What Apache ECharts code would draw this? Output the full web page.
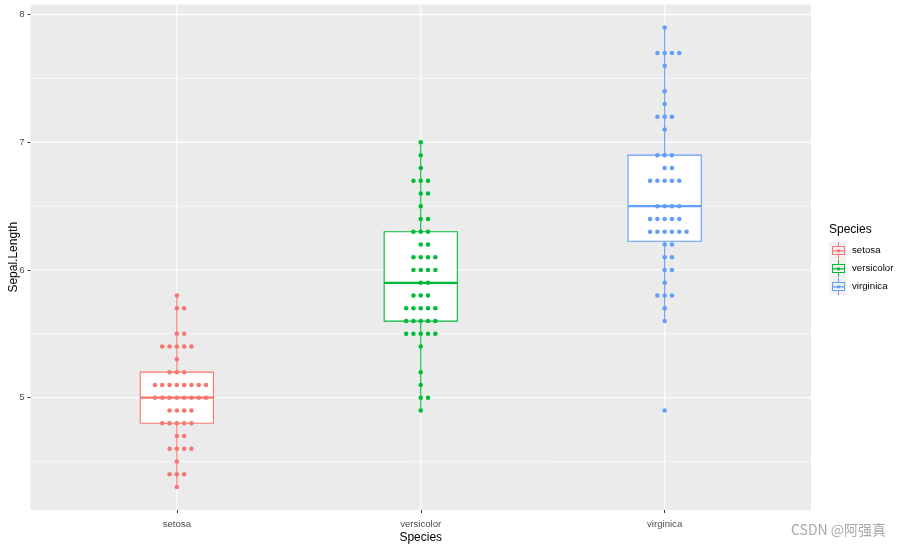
<!DOCTYPE html>
<html><head><meta charset="utf-8">
<script src="https://cdn.jsdelivr.net/npm/echarts@6/dist/echarts.min.js"></script>
<style>html,body{margin:0;padding:0;background:#fff}#c{width:906px;height:548px}</style>
</head><body><div id="c"></div>
<script>
// ---- data (iris Sepal.Length by Species) ----
const categories = ['setosa', 'versicolor', 'virginica'];
const setosa = [5.1,4.9,4.7,4.6,5.0,5.4,4.6,5.0,4.4,4.9,5.4,4.8,4.8,4.3,5.8,5.7,5.4,5.1,5.7,5.1,5.4,5.1,4.6,5.1,4.8,5.0,5.0,5.2,5.2,4.7,4.8,5.4,5.2,5.5,4.9,5.0,5.5,4.9,4.4,5.1,5.0,4.5,4.4,5.0,5.1,4.8,5.1,4.6,5.3,5.0];
const versicolor = [7.0,6.4,6.9,5.5,6.5,5.7,6.3,4.9,6.6,5.2,5.0,5.9,6.0,6.1,5.6,6.7,5.6,5.8,6.2,5.6,5.9,6.1,6.3,6.1,6.4,6.6,6.8,6.7,6.0,5.7,5.5,5.5,5.8,6.0,5.4,6.0,6.7,6.3,5.6,5.5,5.5,6.1,5.8,5.0,5.6,5.7,5.7,6.2,5.1,5.7];
const virginica = [6.3,5.8,7.1,6.3,6.5,7.6,4.9,7.3,6.7,7.2,6.5,6.4,6.8,5.7,5.8,6.4,6.5,7.7,7.7,6.0,6.9,5.6,7.7,6.3,6.7,7.2,6.2,6.1,6.4,7.2,7.4,7.9,6.4,6.3,6.1,7.7,6.3,6.4,6.0,6.9,6.7,6.9,5.8,6.8,6.7,6.7,6.3,6.5,6.2,5.9];
const colors = ['#F8766D', '#00BA38', '#619CFF'];
const yTicks = [5, 6, 7, 8];
const yMinor = [4.5, 5.5, 6.5, 7.5];
const xTicks = [1, 2, 3];
const yRange = [4.12, 8.08];
const xRange = [0.4, 3.6];

const groups = [setosa, versicolor, virginica];

function quantile(sorted, p) {
  const h = (sorted.length - 1) * p, lo = Math.floor(h), hi = Math.ceil(h);
  return sorted[lo] + (h - lo) * (sorted[hi] - sorted[lo]);
}
function boxStats(arr) {
  const s = arr.slice().sort((a, b) => a - b);
  const q1 = quantile(s, 0.25), med = quantile(s, 0.5), q3 = quantile(s, 0.75);
  const iqr = q3 - q1;
  const lo = s.find(v => v >= q1 - 1.5 * iqr - 1e-9);
  const hi = s.slice().reverse().find(v => v <= q3 + 1.5 * iqr + 1e-9);
  return [lo, q1, med, q3, hi];
}
const DOT_STEP = 7.3;
function dots(arr, xi) {
  const counts = {};
  arr.forEach(v => { const k = v.toFixed(1); counts[k] = (counts[k] || 0) + 1; });
  const out = [];
  Object.keys(counts).forEach(k => {
    const n = counts[k];
    const start = -Math.floor((n - 1) / 2);
    for (let i = 0; i < n; i++) {
      out.push({ value: [xi, parseFloat(k)], symbolOffset: [(start + i) * DOT_STEP, 0] });
    }
  });
  return out;
}

const iconPath = 'path://M0 4H13V5H0Z M0 12H13V13H0Z M0 4H1V13H0Z M12 4H13V13H12Z M0 8.3H13V9.5H0Z M6 0H7V4H6Z M6 13H7V17H6Z M5 7.6H8V10.2H5Z';

// grid line records: [orientation (0 = horizontal, 1 = vertical), value, width]
const gridLines = [
  ...yMinor.map(v => [0, v, 0.6]),
  ...yTicks.map(v => [0, v, 1.2]),
  ...xTicks.map(v => [1, v, 1.2])
];

const series = [];
series.push({
  type: 'custom', z: 1, silent: true,
  encode: { x: -1, y: -1 },
  data: gridLines,
  renderItem: function (params, api) {
    const cs = params.coordSys;
    const orient = api.value(0), v = api.value(1), w = api.value(2);
    if (orient === 0) {
      const y = api.coord([xRange[0], v])[1];
      return { type: 'line', shape: { x1: cs.x, y1: y, x2: cs.x + cs.width, y2: y }, style: { stroke: '#fff', lineWidth: w } };
    }
    const x = api.coord([v, yRange[0]])[0];
    return { type: 'line', shape: { x1: x, y1: cs.y, x2: x, y2: cs.y + cs.height }, style: { stroke: '#fff', lineWidth: w } };
  }
});
groups.forEach((g, i) => {
  series.push({
    name: categories[i], type: 'custom', z: 2, color: colors[i],
    encode: { x: 0, y: [1, 2, 3, 4, 5] },
    data: [[i + 1, ...boxStats(g)]],
    renderItem: function (params, api) {
      const x = api.value(0);
      const lo = api.coord([x, api.value(1)]);
      const q1 = api.coord([x, api.value(2)]);
      const md = api.coord([x, api.value(3)]);
      const q3 = api.coord([x, api.value(4)]);
      const hi = api.coord([x, api.value(5)]);
      const w = api.size([0.3, 0])[0];
      const c = api.visual('color');
      return {
        type: 'group', children: [
          { type: 'line', shape: { x1: lo[0], y1: lo[1], x2: hi[0], y2: hi[1] }, style: { stroke: c, lineWidth: 1.1 } },
          { type: 'rect', shape: { x: q3[0] - w / 2, y: q3[1], width: w, height: q1[1] - q3[1] }, style: { fill: '#fff', stroke: c, lineWidth: 1.1 } },
          { type: 'line', shape: { x1: md[0] - w / 2, y1: md[1], x2: md[0] + w / 2, y2: md[1] }, style: { stroke: c, lineWidth: 2.2 } }
        ]
      };
    }
  });
});
groups.forEach((g, i) => {
  series.push({
    name: categories[i], type: 'scatter', z: 3, color: colors[i],
    symbol: 'circle', symbolSize: 4.5,
    itemStyle: { color: colors[i], opacity: 1 },
    data: dots(g, i + 1)
  });
});

const chart = echarts.init(document.getElementById('c'), null, { renderer: 'canvas' });
chart.setOption({
  animation: false,
  backgroundColor: '#fff',
  textStyle: { fontFamily: 'Liberation Sans, Arial, sans-serif' },
  title: {
    text: 'Species', left: 829, top: 224, padding: 0,
    textStyle: { fontSize: 12, fontWeight: 'normal', color: '#000', fontFamily: 'Liberation Sans' }
  },
  legend: {
    orient: 'vertical', left: 832, top: 242, padding: 0,
    itemWidth: 13, itemHeight: 17, itemGap: 1,
    data: categories.map(c => ({ name: c, icon: iconPath })),
    textStyle: { fontSize: 9.7, color: '#000', fontFamily: 'Liberation Sans', padding: [0, 0, 0, 2] },
    selectedMode: false
  },
  graphic: [
    { type: 'rect', left: 829, top: 242, z: -1, shape: { width: 17, height: 53 }, style: { fill: '#F2F2F2' } },
    { type: 'text', left: 791, top: 523, style: { text: 'CSDN @阿强真', fill: '#a8a8a8', font: '14px "Noto Sans CJK SC", sans-serif' } }
  ],
  grid: {
    left: 30.5, right: 95, top: 4.5, bottom: 38, show: true,
    backgroundColor: '#EBEBEB', borderWidth: 0, containLabel: false, outerBoundsMode: 'none'
  },
  xAxis: {
    type: 'value', min: xRange[0], max: xRange[1],
    name: 'Species', nameLocation: 'middle', nameGap: 22, nameMoveOverlap: false,
    nameTextStyle: { fontSize: 12, color: '#000' },
    axisLine: { show: false },
    axisTick: { show: true, length: 3, lineStyle: { color: '#333' }, customValues: xTicks },
    axisLabel: { fontSize: 9.6, color: '#4D4D4D', margin: 9, customValues: xTicks, formatter: v => categories[Math.round(v) - 1] },
    splitLine: { show: false }
  },
  yAxis: {
    type: 'value', min: yRange[0], max: yRange[1],
    name: 'Sepal.Length', nameLocation: 'middle', nameGap: 11, nameRotate: 90, nameMoveOverlap: false,
    nameTextStyle: { fontSize: 12, color: '#000' },
    axisLine: { show: false },
    axisTick: { show: true, length: 3, lineStyle: { color: '#333' }, customValues: yTicks },
    axisLabel: { fontSize: 9.6, color: '#4D4D4D', margin: 6, customValues: yTicks },
    splitLine: { show: false }
  },
  series: series
});
</script>
</body></html>
